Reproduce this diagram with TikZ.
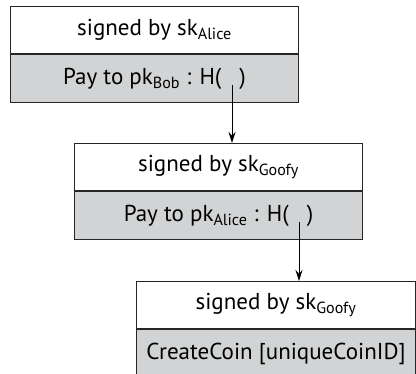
\documentclass[tikz,border=0pt]{standalone}
\usepackage{fontspec}
\setmainfont{PT Sans}
\usetikzlibrary{arrows.meta, positioning}
\definecolor{payfill}{RGB}{209,211,212}

\begin{document}
\begin{tikzpicture}[
        x=1pt, y=1pt,
        row/.style={
            rectangle,
            draw=black!85,
            line width=1pt,
            minimum width=288pt,
            minimum height=47.5pt,
            inner sep=0pt,
            font=\fontsize{23}{27}\selectfont
        },
        sig/.style={
            row,
            fill=white
        },
        pay/.style={
            row,
            fill=payfill
        },
        line/.style={
            draw,
            -{Stealth[length=11pt,width=7pt]},
            line width=1pt
        }
    ]
        \useasboundingbox (0,0) rectangle (416,-374);

        % Nodes
        \node [sig, anchor=north west] (sig1) at (10,-6) {signed by sk\textsubscript{Alice}};
        \node [pay, below=0pt of sig1] (pay1) {Pay to pk\textsubscript{Bob} : H(\hspace{18pt})};
        \node [sig, anchor=north west] (sig2) at ([xshift=64pt, yshift=-40pt]pay1.south west) {signed by sk\textsubscript{Goofy}};
        \node [pay, below=0pt of sig2] (pay2) {Pay to pk\textsubscript{Alice} : H(\hspace{18pt})};
        \node [sig, anchor=north west, minimum width=279pt] (sig3) at ([xshift=62pt, yshift=-41pt]pay2.south west) {signed by sk\textsubscript{Goofy}};
        \node [pay, below=0pt of sig3, minimum width=279pt] (pay3) {CreateCoin [uniqueCoinID]};

        % Hash pointers
        \coordinate (h1) at (232,-85);
        \coordinate (h2) at (299,-222);

        % Paths
        \path [line] (h1) -- (h1 |- sig2.north);
        \path [line] (h2) -- (h2 |- sig3.north);

    \end{tikzpicture}
\end{document}
